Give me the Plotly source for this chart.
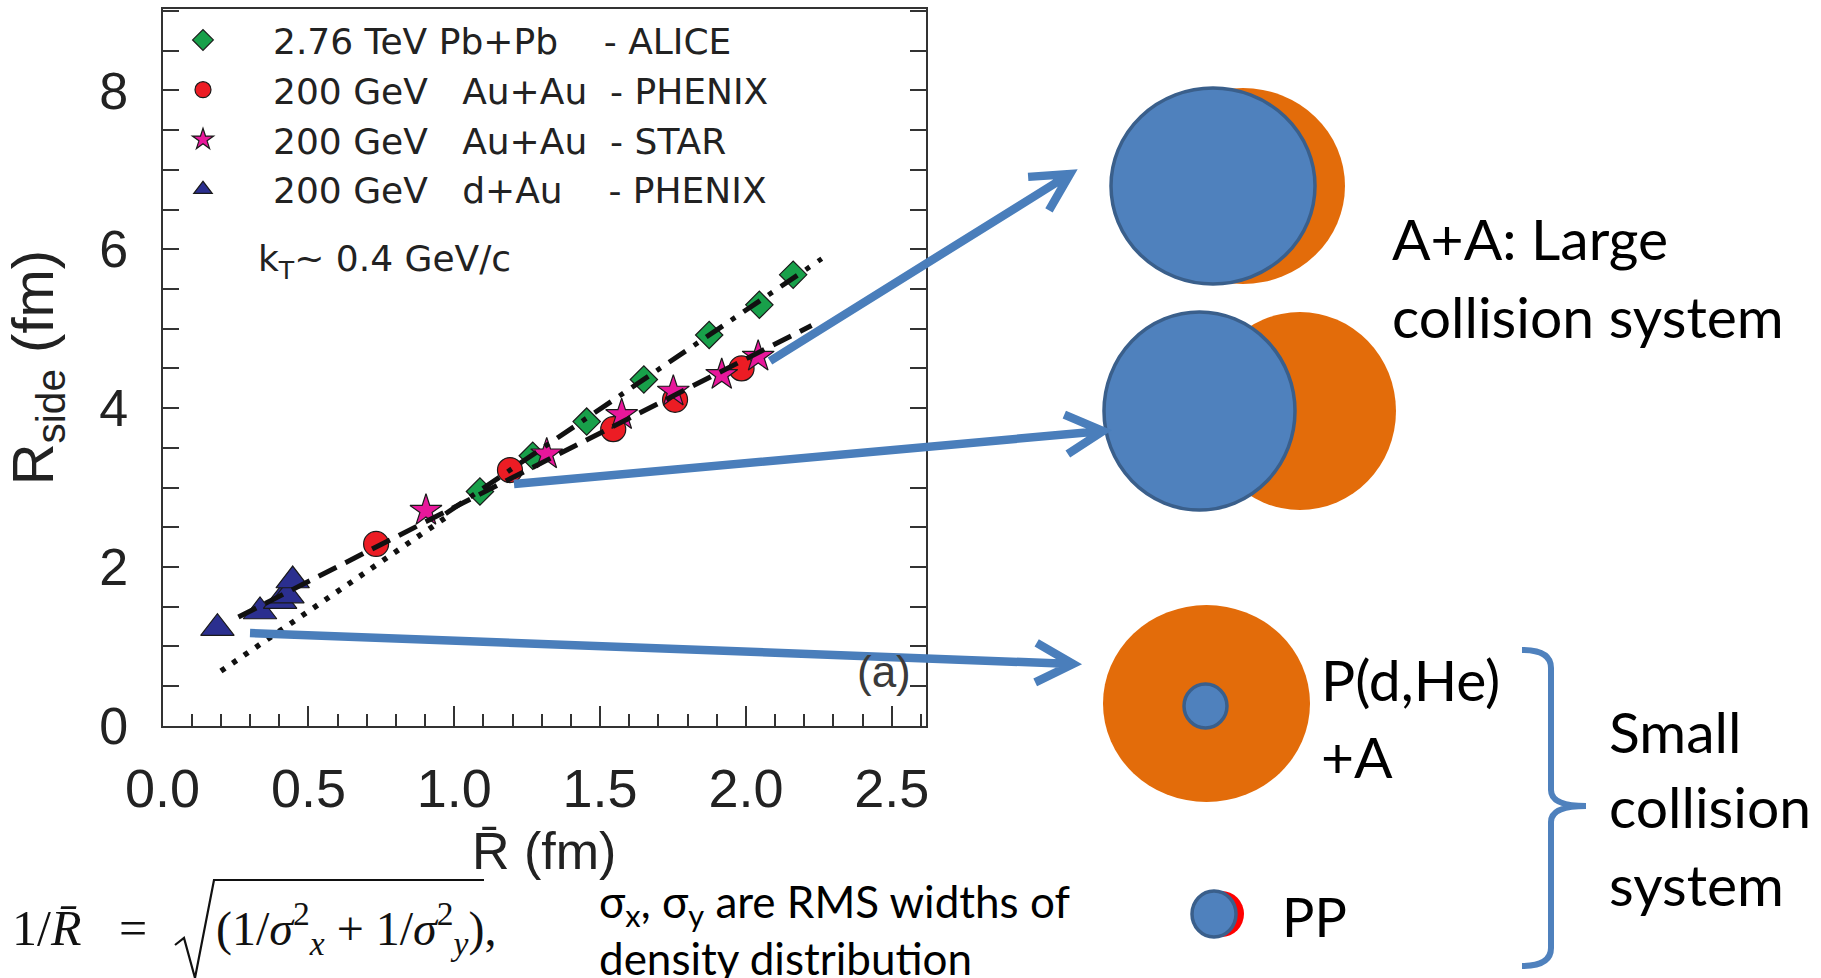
import math
import plotly.graph_objects as go

W, H = 1821, 978

# ---------------- data ----------------
alice_x = [1.088, 1.269, 1.454, 1.650, 1.874, 2.046, 2.162]
alice_y = [2.95, 3.40, 3.83, 4.36, 4.92, 5.30, 5.68]

phenix_auau_x = [0.732, 1.191, 1.545, 1.757, 1.985]
phenix_auau_y = [2.29, 3.22, 3.735, 4.105, 4.50]

star_auau_x = [0.903, 1.317, 1.574, 1.751, 1.917, 2.042]
star_auau_y = [2.71, 3.42, 3.915, 4.21, 4.42, 4.65]

phenix_dau_x = [0.188, 0.334, 0.403, 0.428, 0.446]
phenix_dau_y = [1.23, 1.44, 1.57, 1.64, 1.83]

fit_dash_x = [0.26, 2.225]
fit_dash_y = [1.37, 5.04]
fit_dashdot_x = [0.97, 2.26]
fit_dashdot_y = [2.67, 5.88]
fit_dot_x = [0.20, 0.97]
fit_dot_y = [0.69, 2.62]

x_tick_vals = [0.0, 0.5, 1.0, 1.5, 2.0, 2.5]
x_tick_text = ["0.0", "0.5", "1.0", "1.5", "2.0", "2.5"]
y_tick_vals = [0, 2, 4, 6, 8]
y_tick_text = ["0", "2", "4", "6", "8"]

NB = "\u00a0"
legend_labels = [
    "2.76 TeV Pb+Pb" + NB * 4 + "- ALICE",
    "200 GeV" + NB * 3 + "Au+Au" + NB * 2 + "- PHENIX",
    "200 GeV" + NB * 3 + "Au+Au" + NB * 2 + "- STAR",
    "200 GeV" + NB * 3 + "d+Au" + NB * 4 + "- PHENIX",
]

# ---------------- helpers for the slide decorations ----------------
def px(x):
    return x / W


def py(y):
    return 1 - y / H


def pt(x, y):
    return f"{px(x):.5f},{py(y):.5f}"


BLUE = "#4f81bd"
BLUE_EDGE = "#3a5f8b"
ORANGE = "#e36c0a"
ARROW = "#4a7ebb"

fig = go.Figure()

MK_EDGE = dict(color="#1a1a1a", width=1.2)
fig.add_trace(go.Scatter(x=alice_x, y=alice_y, mode="markers", name=legend_labels[0],
                         marker=dict(symbol="diamond", size=21, color="#18a04a", line=MK_EDGE)))
fig.add_trace(go.Scatter(x=phenix_auau_x, y=phenix_auau_y, mode="markers", name=legend_labels[1],
                         marker=dict(symbol="circle", size=25, color="#ec1c24", line=MK_EDGE)))
fig.add_trace(go.Scatter(x=star_auau_x, y=star_auau_y, mode="markers", name=legend_labels[2],
                         marker=dict(symbol="star", size=24, color="#e8179b", line=MK_EDGE)))
fig.add_trace(go.Scatter(x=phenix_dau_x, y=phenix_dau_y, mode="markers", name=legend_labels[3],
                         marker=dict(symbol="triangle-up", size=29, color="#2b2f8f", line=MK_EDGE)))

fig.add_trace(go.Scatter(x=fit_dash_x, y=fit_dash_y, mode="lines", showlegend=False,
                         line=dict(color="#111111", width=5, dash="20px,10px")))
fig.add_trace(go.Scatter(x=fit_dashdot_x, y=fit_dashdot_y, mode="lines", showlegend=False,
                         line=dict(color="#111111", width=5, dash="20px,10px,5px,10px")))
fig.add_trace(go.Scatter(x=fit_dot_x, y=fit_dot_y, mode="lines", showlegend=False,
                         line=dict(color="#111111", width=5.5, dash="5px,9px")))

AX_COLOR = "#333333"
TICK_FONT = dict(family="Liberation Sans, Arial, sans-serif", size=54, color="#222222")

fig.update_layout(
    width=W, height=H,
    margin=dict(l=0, r=0, t=0, b=0),
    paper_bgcolor="white", plot_bgcolor="white",
    showlegend=True,
    legend=dict(x=133 / W, y=py(10), xanchor="left", yanchor="top",
                bgcolor="rgba(0,0,0,0)", borderwidth=0, itemwidth=130,
                font=dict(family="DejaVu Sans", size=36, color="#222222")),
    xaxis=dict(domain=[162.6 / W, 925.6 / W], range=[0, 2.616],
               tickmode="array", tickvals=x_tick_vals, ticktext=x_tick_text,
               ticks="inside", ticklen=20, tickwidth=1.6, tickcolor=AX_COLOR,
               minor=dict(dtick=0.1, tick0=0, ticks="inside", ticklen=12, tickwidth=1.6, tickcolor=AX_COLOR),
               showline=True, linecolor=AX_COLOR, linewidth=2.2, mirror=True,
               showgrid=False, zeroline=False, automargin=False,
               tickfont=TICK_FONT, ticklabelstandoff=14,
               title=dict(text="R\u0304 (fm)", standoff=16,
                          font=dict(family="Liberation Sans, Arial, sans-serif", size=52, color="#222222"))),
    yaxis=dict(domain=[py(725.9), py(9.3)], range=[0, 9.02],
               tickmode="array", tickvals=y_tick_vals, ticktext=y_tick_text,
               ticks="inside", ticklen=16, tickwidth=1.6, tickcolor=AX_COLOR,
               minor=dict(dtick=0.5, tick0=0, ticks="inside", ticklen=16, tickwidth=1.6, tickcolor=AX_COLOR),
               showline=True, linecolor=AX_COLOR, linewidth=2.2, mirror="ticks",
               showgrid=False, zeroline=False, automargin=False,
               tickfont=dict(family="Liberation Sans, Arial, sans-serif", size=52, color="#222222"),
               ticklabelstandoff=22,
               title=dict(text="R<sub>side</sub> (fm)", standoff=34,
                          font=dict(family="Liberation Sans, Arial, sans-serif", size=58, color="#222222"))),
)

# ---------------- shapes (slide decorations) ----------------
shapes = []


def ellipse(x0, y0, x1, y1, fill, edge=None, ew=0):
    shapes.append(dict(type="circle", xref="paper", yref="paper",
                       x0=px(x0), x1=px(x1), y0=py(y1), y1=py(y0),
                       fillcolor=fill, line=dict(color=edge or fill, width=ew), layer="above"))


def arrow(x0, y0, x1, y1, head=42, ang=28, width=8.5):
    d = math.atan2(y1 - y0, x1 - x0)
    b = d + math.pi
    w1 = (x1 + head * math.cos(b + math.radians(ang)), y1 + head * math.sin(b + math.radians(ang)))
    w2 = (x1 + head * math.cos(b - math.radians(ang)), y1 + head * math.sin(b - math.radians(ang)))
    path = (f"M{pt(x0, y0)} L{pt(x1, y1)} "
            f"M{pt(*w1)} L{pt(x1, y1)} L{pt(*w2)}")
    shapes.append(dict(type="path", xref="paper", yref="paper", path=path,
                       line=dict(color=ARROW, width=width), layer="above"))


# A+A large systems
ellipse(1141, 88, 1345, 284, ORANGE)
ellipse(1111, 88, 1315, 284, BLUE, BLUE_EDGE, 3.5)
ellipse(1204, 312, 1396, 510, ORANGE)
ellipse(1104, 312, 1295, 510, BLUE, BLUE_EDGE, 3.5)
# p+A
ellipse(1103, 605, 1310, 802, ORANGE)
ellipse(1184, 684, 1227, 728, BLUE, BLUE_EDGE, 3.5)
# pp
ellipse(1199, 891, 1244, 937, "#ff0000")
ellipse(1192, 891, 1236, 937, BLUE, BLUE_EDGE, 3.5)

arrow(770, 361, 1070, 174)
arrow(514, 484, 1103, 431)
arrow(250, 633, 1073, 664)

# brace
brace = (f"M{pt(1522, 650)} Q{pt(1551, 650)} {pt(1551, 668)} L{pt(1551, 790)} "
         f"Q{pt(1551, 806)} {pt(1586, 806)} Q{pt(1551, 806)} {pt(1551, 822)} "
         f"L{pt(1551, 948)} Q{pt(1551, 966)} {pt(1522, 966)}")
shapes.append(dict(type="path", xref="paper", yref="paper", path=brace,
                   line=dict(color=BLUE, width=6), layer="above"))

# radical sign of the formula
radical = (f"M{pt(175, 945)} L{pt(184, 938)} L{pt(195, 978)} L{pt(214, 880)} L{pt(484, 880)}")
shapes.append(dict(type="path", xref="paper", yref="paper", path=radical,
                   line=dict(color="#111111", width=2.2), layer="above"))

fig.update_layout(shapes=shapes)

# ---------------- text ----------------
annotations = []


def text(s, x, y, size, family="Lato", color="#000000", xanchor="left"):
    annotations.append(dict(text=s, x=px(x), y=py(y), xref="paper", yref="paper",
                            xanchor=xanchor, yanchor="middle", showarrow=False,
                            font=dict(family=family, size=size, color=color)))


text("k<sub>T</sub>~ 0.4 GeV/c", 256, 262, 36, family="DejaVu Sans", color="#222222")
text("(a)", 855, 671, 44, family="Liberation Sans, Arial, sans-serif", color="#3a3a3a")

text("A+A: Large", 1390, 238, 57)
text("collision system", 1390, 316, 57)
text("P(d,He)", 1319, 679, 57)
text("+A", 1319, 756, 57)
text("PP", 1280, 916, 54)
text("Small", 1607, 731, 57)
text("collision", 1607, 806, 57)
text("system", 1607, 884, 57)

text("σ<sub>x</sub>, σ<sub>y</sub> are RMS widths of", 597, 904, 44)
text("density distribution", 597, 958, 44)

SERIF = "Liberation Serif, Times New Roman, serif"
text("1/<i>R\u0304</i>" + NB * 3 + "=", 10, 928, 50, family=SERIF, color="#111111")
text("(1/<i>σ</i><sup>2</sup><sub><i>x</i></sub> + 1/<i>σ</i><sup>2</sup><sub><i>y</i></sub>),",
     214, 928, 48, family=SERIF, color="#111111")

fig.update_layout(annotations=annotations)

fig.write_html("out.html")
